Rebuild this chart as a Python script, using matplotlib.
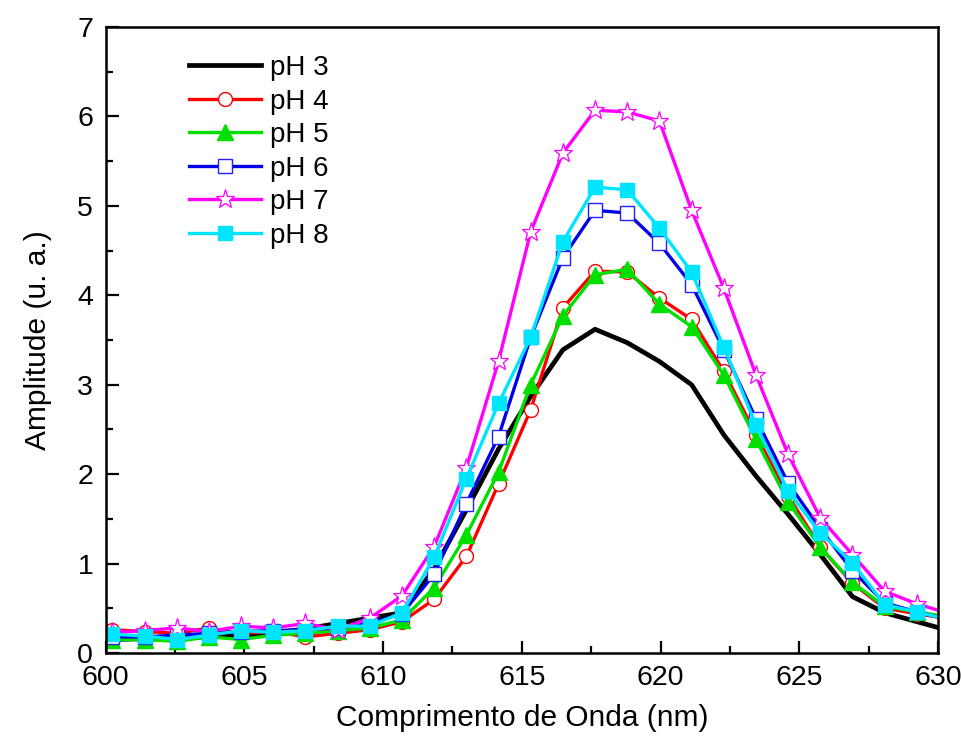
import matplotlib
matplotlib.use('Agg')
import matplotlib.pyplot as plt
from matplotlib.ticker import MultipleLocator

plt.rcParams['font.family'] = ['Liberation Sans', 'DejaVu Sans']

wavelength = [600.24, 601.40, 602.56, 603.72, 604.88, 606.04, 607.20, 608.36, 609.52,
              610.68, 611.84, 613.00, 614.16, 615.32, 616.48, 617.64, 618.80, 619.96,
              621.12, 622.28, 623.44, 624.60, 625.76, 626.92, 628.08, 629.24, 630.40]

ph3 = [0.15, 0.16, 0.18, 0.18, 0.19, 0.22, 0.27, 0.33, 0.39, 0.45, 0.94, 1.60, 2.28, 2.87,
       3.39, 3.62, 3.47, 3.26, 3.00, 2.44, 1.98, 1.55, 1.10, 0.63, 0.45, 0.35, 0.25]
ph4 = [0.26, 0.24, 0.22, 0.28, 0.22, 0.24, 0.18, 0.22, 0.26, 0.35, 0.60, 1.08, 1.89, 2.72,
       3.86, 4.27, 4.26, 3.97, 3.73, 3.15, 2.44, 1.76, 1.18, 0.78, 0.50, 0.44, 0.38]
ph5 = [0.15, 0.15, 0.13, 0.18, 0.15, 0.20, 0.22, 0.25, 0.28, 0.37, 0.73, 1.32, 2.02, 3.00,
       3.77, 4.23, 4.29, 3.90, 3.65, 3.11, 2.39, 1.69, 1.18, 0.79, 0.52, 0.46, 0.40]
ph6 = [0.18, 0.18, 0.20, 0.22, 0.24, 0.25, 0.26, 0.28, 0.33, 0.44, 0.88, 1.67, 2.42, 3.53,
       4.42, 4.95, 4.92, 4.58, 4.12, 3.39, 2.62, 1.90, 1.39, 0.92, 0.56, 0.46, 0.37]
ph7 = [0.23, 0.25, 0.28, 0.24, 0.30, 0.28, 0.33, 0.26, 0.39, 0.64, 1.19, 2.07, 3.26, 4.71,
       5.59, 6.07, 6.05, 5.95, 4.95, 4.08, 3.11, 2.22, 1.51, 1.10, 0.69, 0.55, 0.44]
ph8 = [0.21, 0.19, 0.15, 0.20, 0.25, 0.23, 0.25, 0.30, 0.30, 0.45, 1.07, 1.95, 2.79, 3.53,
       4.60, 5.21, 5.18, 4.75, 4.26, 3.42, 2.55, 1.81, 1.34, 1.01, 0.54, 0.46, 0.37]

fig = plt.figure(figsize=(9.61, 7.36), dpi=100)
ax = fig.add_axes([0.110, 0.1128, 0.866, 0.8505])

ax.plot(wavelength, ph3, color='black', lw=3.4, label='pH 3')
ax.plot(wavelength, ph4, color='#ff0000', lw=2.4, marker='o', ms=10, mfc='white',
        mec='#ff0000', mew=1.0, label='pH 4')
ax.plot(wavelength, ph5, color='#00e000', lw=2.4, marker='^', ms=11.5, mfc='#00e000',
        mec='#00e000', label='pH 5')
ax.plot(wavelength, ph6, color='#0000e8', lw=2.4, marker='s', ms=9.5, mfc='white',
        mec='#2020ff', mew=1.0, label='pH 6')
ax.plot(wavelength, ph7, color='#ff00ff', lw=2.4, marker='*', ms=14, mfc='white',
        mec='#ff00ff', mew=0.9, label='pH 7')
ax.plot(wavelength, ph8, color='#00e5ff', lw=2.4, marker='s', ms=9.5, mfc='#00e5ff',
        mec='#00e5ff', label='pH 8')

ax.set_xlim(600, 630)
ax.set_ylim(0, 7)
ax.xaxis.set_major_locator(MultipleLocator(5))
ax.xaxis.set_minor_locator(MultipleLocator(2.5))
ax.yaxis.set_major_locator(MultipleLocator(1))
ax.yaxis.set_minor_locator(MultipleLocator(0.5))
ax.tick_params(which='both', direction='in', top=False, right=False, width=1.6,
               labelsize=20.5)
ax.tick_params(which='major', length=9, pad=9)
ax.tick_params(which='minor', length=5)
for s in ax.spines.values():
    s.set_linewidth(1.8)

ax.set_xlabel('Comprimento de Onda (nm)', fontsize=21.5, labelpad=9)
ax.set_ylabel('Amplitude (u. a.)', fontsize=21.5, labelpad=18)

ax.legend(loc='upper left', bbox_to_anchor=(0.07, 0.995), frameon=False, fontsize=20,
          handlelength=2.6, handletextpad=0.3, labelspacing=0.27)

plt.savefig('out.png', dpi=100)
plt.close()
